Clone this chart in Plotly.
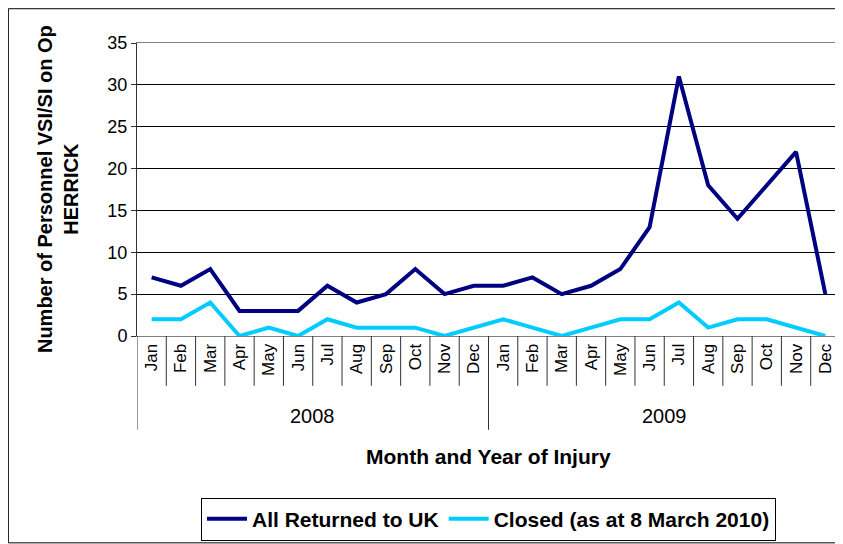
import plotly.graph_objects as go

months = ["Jan", "Feb", "Mar", "Apr", "May", "Jun", "Jul", "Aug", "Sep", "Oct", "Nov", "Dec"]
years = ["2008", "2009"]
all_returned = [7, 6, 8, 3, 3, 3, 6, 4, 5, 8, 5, 6,
                6, 7, 5, 6, 8, 13, 31, 18, 14, 18, 22, 5]
closed = [2, 2, 4, 0, 1, 0, 2, 1, 1, 1, 0, 1,
          2, 1, 0, 1, 2, 2, 4, 1, 2, 2, 1, 0]

labels = months * len(years)
xs = list(range(len(labels)))

font = "Liberation Sans, Arial, sans-serif"

fig = go.Figure()
fig.add_trace(go.Scatter(x=xs, y=all_returned, mode="lines", name="<b>All Returned to UK</b>",
                         line=dict(color="#000080", width=4)))
fig.add_trace(go.Scatter(x=xs, y=closed, mode="lines", name="<b>Closed (as at 8 March 2010)</b>",
                         line=dict(color="#00CCFF", width=4)))

shapes = []
# dividers between months
for i in range(len(labels) + 1):
    edge = i % 12 == 0
    shapes.append(dict(type="line", xref="x", yref="paper", x0=i - 0.5, x1=i - 0.5,
                       y0=0, y1=-0.32 if edge else -0.17,
                       line=dict(color="#333333", width=1)))
# outer chart border
shapes.append(dict(type="rect", xref="paper", yref="paper", x0=-0.183, x1=1.003,
                   y0=-0.706, y1=1.117, line=dict(color="#000000", width=1)))

annotations = []
for k, yr in enumerate(years):
    annotations.append(dict(x=k * 12 + 5.5, y=-0.273, xref="x", yref="paper", text=yr,
                            yanchor="middle", showarrow=False,
                            font=dict(size=20, color="black", family=font)))
annotations.append(dict(x=0.5, y=-0.41, xref="paper", yref="paper", yanchor="middle",
                        text="<b>Month and Year of Injury</b>", showarrow=False,
                        font=dict(size=21, color="black", family=font)))
annotations.append(dict(x=-0.113, y=0.5, xref="paper", yref="paper", textangle=-90,
                        xanchor="center", yanchor="middle",
                        text="<b>Number of Personnel VSI/SI on Op<br>HERRICK</b>",
                        showarrow=False, font=dict(size=20, color="black", family=font)))

# the page body adds an 8px offset, so the figure is sized and placed to compensate
fig.update_layout(
    width=835, height=536,
    margin=dict(l=129, r=3, t=35, b=208, autoexpand=False),
    paper_bgcolor="white", plot_bgcolor="white",
    font=dict(family=font, size=18, color="black"),
    showlegend=True,
    legend=dict(orientation="h", x=0.5, xanchor="center", y=-0.625, yanchor="middle",
                bordercolor="black", borderwidth=1,
                font=dict(size=21, family=font), itemwidth=40),
    shapes=shapes,
    annotations=annotations,
)
fig.update_xaxes(range=[-0.5, len(labels) - 0.5], tickvals=xs, ticktext=labels,
                 tickangle=-90, showgrid=False, ticks="", showline=True,
                 linecolor="#808080", mirror=True, zeroline=False, automargin=False,
                 tickfont=dict(size=17))
fig.update_yaxes(range=[0, 35], dtick=5, showgrid=True, gridcolor="black", gridwidth=1,
                 ticks="outside", ticklen=5, tickcolor="#333333", showline=True,
                 linecolor="#333333", mirror=True, zeroline=False, automargin=False,
                 tickfont=dict(size=18))

fig.write_html("out.html")
